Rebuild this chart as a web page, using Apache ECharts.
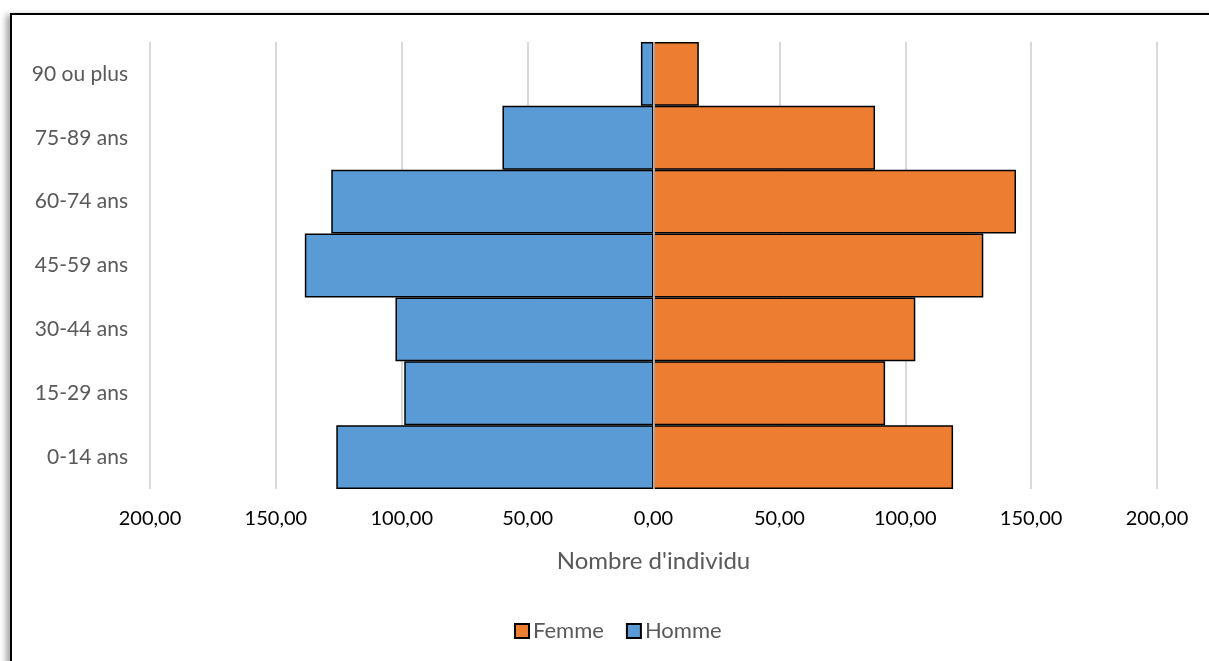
<!DOCTYPE html>
<html>
<head>
<meta charset="utf-8">
<script src="https://cdn.jsdelivr.net/npm/echarts@6/dist/echarts.min.js"></script>
<style>
html,body{margin:0;padding:0;background:#fff;}
#frame{position:absolute;left:10px;top:13px;width:1220px;height:680px;border:2px solid #000;box-shadow:-4px 2px 6px rgba(0,0,0,0.35);}
#chart{position:absolute;left:0;top:0;width:1209px;height:661px;}
</style>
</head>
<body>
<div id="frame"></div>
<div id="chart"></div>
<script>
const categories = ['0-14 ans','15-29 ans','30-44 ans','45-59 ans','60-74 ans','75-89 ans','90 ou plus'];
const homme = [126, 99, 102.5, 138.5, 128, 60, 5];
const femme = [119, 92, 104, 131, 144, 88, 18];
const seriesNames = ['Femme','Homme'];
const axisTitle = "Nombre d'individu";

const font = 'Lato, "Noto Sans", sans-serif';
const fmt = v => Math.abs(v).toFixed(2).replace('.', ',');

const chart = echarts.init(document.getElementById('chart'), null, {renderer:'canvas'});
chart.setOption({
  animation:false,
  backgroundColor:'transparent',
  textStyle:{fontFamily:font},
  grid:{left:150,right:52,top:42,bottom:172,containLabel:false},
  legend:{
    data:seriesNames,
    bottom:14,
    left:509,
    itemWidth:14,itemHeight:14,itemGap:22,
    icon:'rect',
    textStyle:{fontFamily:font,fontSize:22,color:'#595959',padding:[0,0,0,-1]}
  },
  xAxis:{
    type:'value',min:-200,max:200,interval:50,
    name:axisTitle,nameLocation:'middle',nameGap:60,
    nameTextStyle:{fontFamily:font,fontSize:24,color:'#595959'},
    axisLabel:{formatter:fmt,fontFamily:font,fontSize:20,color:'#000',margin:20},
    axisLine:{show:false},axisTick:{show:false},
    splitLine:{show:true,lineStyle:{color:'#d9d9d9',width:2}}
  },
  yAxis:{
    type:'category',data:categories,
    axisLine:{show:false,onZero:false},axisTick:{show:false},
    axisLabel:{fontFamily:font,fontSize:21,color:'#595959',margin:22}
  },
  series:[
    {
      name:'Homme',type:'bar',stack:'p',data:homme.map(v=>-v),
      barCategoryGap:'0%',
      itemStyle:{color:'#5b9bd5',borderColor:'#000',borderWidth:1.5},
      markLine:{
        silent:true,symbol:'none',
        label:{show:false},
        lineStyle:{color:'#d9d9d9',width:1.5,type:'solid'},
        data:[{xAxis:0}]
      },
      z:2
    },
    {
      name:'Femme',type:'bar',stack:'p',data:femme,
      barCategoryGap:'0%',
      itemStyle:{color:'#ed7d31',borderColor:'#000',borderWidth:1.5},
      z:2
    }
  ]
});
</script>
</body>
</html>
